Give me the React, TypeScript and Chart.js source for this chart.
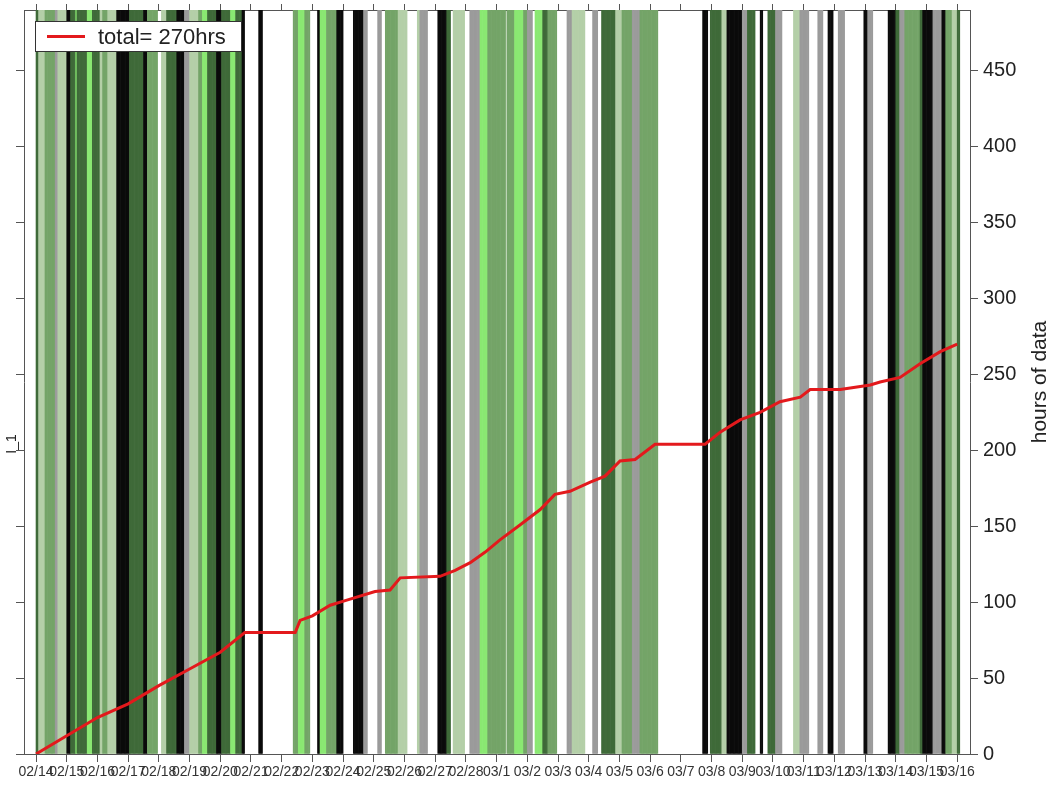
import React, { useEffect, useRef } from "react";
import { Chart, registerables } from "chart.js";

Chart.register(...registerables);

// Day tick labels (one per day, midnight)
const DAY_LABELS = [
  "02/14", "02/15", "02/16", "02/17", "02/18", "02/19", "02/20", "02/21",
  "02/22", "02/23", "02/24", "02/25", "02/26", "02/27", "02/28", "03/1",
  "03/2", "03/3", "03/4", "03/5", "03/6", "03/7", "03/8", "03/9",
  "03/10", "03/11", "03/12", "03/13", "03/14", "03/15", "03/16",
];

// Recorded hours, as runs: [first hour, end hour (exclusive), quality class]
const DATA_RUNS: [number, number, string][] = [
  [0, 2, "D"], [2, 7, "P"], [7, 15, "G"], [15, 17, "Y"], [17, 24, "P"],
  [24, 27, "K"], [27, 31, "D"], [31, 32, "L"], [32, 40, "D"], [40, 44, "L"],
  [44, 50, "D"], [50, 52, "P"], [52, 56, "G"], [56, 63, "P"], [63, 73, "K"],
  [73, 84, "D"], [84, 87, "K"], [87, 95, "G"], [98, 102, "P"], [102, 110, "D"],
  [110, 116, "K"], [116, 120, "Y"], [120, 127, "P"], [127, 130, "G"], [130, 134, "L"],
  [134, 141, "D"], [141, 145, "K"], [145, 152, "D"], [152, 156, "L"], [156, 161, "D"],
  [161, 163, "K"], [174, 177, "K"], [201, 205, "G"], [205, 210, "L"], [210, 214, "G"],
  [220, 222, "K"], [222, 227, "L"], [227, 235, "G"], [235, 240, "K"], [248, 256, "K"],
  [256, 259, "Y"], [267, 270, "Y"], [273, 283, "G"], [283, 290, "P"], [298, 300, "P"],
  [300, 306, "Y"], [314, 321, "K"], [321, 324, "D"], [326, 335, "P"], [339, 347, "Y"],
  [347, 353, "L"], [353, 367, "G"], [368, 374, "G"], [374, 381, "L"], [381, 384, "G"],
  [384, 388, "Y"], [390, 396, "L"], [396, 400, "D"], [400, 407, "G"], [415, 419, "Y"],
  [419, 429, "P"], [435, 439, "Y"], [442, 453, "D"], [453, 458, "P"], [458, 466, "G"],
  [466, 472, "Y"], [472, 478, "G"], [478, 486, "G"], [521, 525, "K"], [527, 536, "D"],
  [536, 540, "P"], [540, 552, "K"], [552, 556, "Y"], [556, 562, "D"], [566, 568, "K"],
  [572, 578, "D"], [578, 583, "Y"], [592, 597, "P"], [597, 604, "Y"], [611, 615, "Y"],
  [619, 623, "K"], [627, 632, "Y"], [647, 650, "K"], [650, 654, "Y"], [666, 672, "K"],
  [672, 675, "D"], [675, 679, "Y"], [679, 691, "G"], [691, 693, "D"], [693, 701, "K"],
  [701, 708, "Y"], [708, 711, "K"], [711, 716, "G"], [716, 720, "P"], [720, 722, "D"],
];

// Fill colour of each quality class
const CLASS_COLORS: Record<string, string> = {
  K: "#0b0b0b",
  D: "#3f6a39",
  G: "#74a468",
  L: "#8ae872",
  Y: "#9b9b9b",
  P: "#b4cfa8",
};

// Cumulative hours of data (day offset from 02/14, hours)
const CUM_DAYS = [
  0, 1, 2, 3, 4, 5, 6, 6.8, 8.44, 8.6, 9.0, 9.58, 10.07, 11.04, 11.53, 11.86,
  13.16, 13.65, 14.14, 14.63, 15.11, 15.77, 16.42, 16.9, 17.39, 18.05, 18.53,
  19.02, 19.51, 20.16, 21.79, 22.28, 22.93, 23.58, 24.23, 24.89, 25.21, 26.19,
  27.17, 27.49, 28.14, 28.79, 29.45, 30.0,
];
const CUM_HOURS = [
  0, 12, 24, 33, 45, 56, 67, 80, 80, 88, 91, 98, 101, 107, 108, 116,
  117, 121, 126, 133, 141, 151, 161, 171, 173, 179, 183,
  193, 194, 204, 204, 212, 220, 225, 232, 235, 240, 240,
  243, 245, 248, 257, 265, 270,
];

const Y_MAX = 490;
const Y_TICKS = [0, 50, 100, 150, 200, 250, 300, 350, 400, 450];
const X_MIN = -9.4;
const X_MAX = 730;
const FONT = "'Liberation Sans', Arial, sans-serif";
const TOTAL = CUM_HOURS[CUM_HOURS.length - 1];

const dayTicks = (scale: any) => {
  scale.ticks = DAY_LABELS.map((_, i) => ({ value: i * 24 }));
};
const hourTicks = (scale: any) => {
  scale.ticks = Y_TICKS.map((v) => ({ value: v }));
};
const fixSize = (w: number | null, h: number | null) => (s: any) => {
  if (w !== null) s.width = w;
  if (h !== null) s.height = h;
  s.paddingTop = 0;
  s.paddingBottom = 0;
  s.paddingLeft = 0;
  s.paddingRight = 0;
};

const drawRotated = (ctx: any, text: string, x: number, y: number, size: number) => {
  ctx.save();
  ctx.translate(x, y);
  ctx.rotate(-Math.PI / 2);
  ctx.fillStyle = "#222222";
  ctx.font = `${size}px ${FONT}`;
  ctx.textAlign = "center";
  ctx.textBaseline = "middle";
  ctx.fillText(text, 0, 0);
  ctx.restore();
};

// Legend box inside the plot, plus both axis titles (reading upward)
const overlayPlugin = {
  id: "overlay",
  afterDatasetsDraw(chart: any) {
    const { ctx, chartArea: a } = chart;
    ctx.save();
    const bx = a.left + 11;
    const by = a.top + 11;
    const bw = 207;
    const bh = 31;
    ctx.fillStyle = "#ffffff";
    ctx.fillRect(bx, by, bw, bh);
    ctx.strokeStyle = "#333333";
    ctx.lineWidth = 1;
    ctx.strokeRect(bx + 0.5, by + 0.5, bw - 1, bh - 1);
    const cy = by + bh / 2;
    ctx.strokeStyle = "#e3191c";
    ctx.lineWidth = 3;
    ctx.beginPath();
    ctx.moveTo(bx + 12, cy);
    ctx.lineTo(bx + 50, cy);
    ctx.stroke();
    ctx.fillStyle = "#222222";
    ctx.font = `22px ${FONT}`;
    ctx.textBaseline = "middle";
    ctx.textAlign = "left";
    ctx.fillText(`total= ${TOTAL}hrs`, bx + 63, cy + 1);
    ctx.restore();
  },
  afterDraw(chart: any) {
    const { ctx, chartArea: a } = chart;
    drawRotated(ctx, "hours of data", 1040, (a.top + a.bottom) / 2, 21);
    drawRotated(ctx, "I_1", 12, 444, 14);
  },
};

export default function App() {
  const canvasRef = useRef<HTMLCanvasElement | null>(null);

  useEffect(() => {
    const canvas = canvasRef.current;
    if (!canvas) return;

    const barPoints: { x: number; y: number }[] = [];
    const barColors: string[] = [];
    DATA_RUNS.forEach(([s, e, c]) => {
      for (let h = s; h < e; h++) {
        barPoints.push({ x: h + 0.5, y: Y_MAX });
        barColors.push(CLASS_COLORS[c]);
      }
    });
    const linePoints = CUM_DAYS.map((d, i) => ({ x: d * 24, y: CUM_HOURS[i] }));

    const axisColor = "#555555";

    const chart = new Chart(canvas, {
      type: "bar",
      data: {
        datasets: [
          {
            type: "line",
            label: "total",
            data: linePoints,
            xAxisID: "x",
            yAxisID: "y",
            borderColor: "#e3191c",
            borderWidth: 3,
            pointRadius: 0,
            tension: 0,
            fill: false,
            order: 0,
          } as any,
          {
            type: "bar",
            label: "data",
            data: barPoints,
            xAxisID: "x",
            yAxisID: "y",
            backgroundColor: barColors,
            borderWidth: 0,
            barPercentage: 1,
            categoryPercentage: 1,
            order: 1,
          } as any,
        ],
      },
      options: {
        responsive: false,
        animation: false,
        events: [],
        layout: { padding: 0 },
        plugins: {
          legend: { display: false },
          tooltip: { enabled: false },
        },
        scales: {
          x: {
            type: "linear",
            position: "bottom",
            offset: false,
            min: X_MIN,
            max: X_MAX,
            afterBuildTicks: dayTicks,
            afterFit: fixSize(null, 35),
            border: { display: true, color: axisColor, width: 1 },
            grid: { offset: false, drawOnChartArea: false, tickLength: 8, color: axisColor },
            ticks: {
              autoSkip: false,
              maxRotation: 0,
              minRotation: 0,
              padding: 2,
              color: "#333333",
              font: { family: FONT, size: 14 },
              callback: (_v: any, i: number) => DAY_LABELS[i],
            },
          },
          xTop: {
            type: "linear",
            position: "top",
            offset: false,
            min: X_MIN,
            max: X_MAX,
            afterBuildTicks: dayTicks,
            afterFit: fixSize(null, 10),
            border: { display: true, color: axisColor, width: 1 },
            grid: { offset: false, drawOnChartArea: false, tickLength: 6, color: axisColor },
            ticks: { display: false },
          },
          y: {
            type: "linear",
            position: "right",
            min: 0,
            max: Y_MAX,
            afterBuildTicks: hourTicks,
            afterFit: fixSize(82, null),
            border: { display: true, color: axisColor, width: 1 },
            grid: { drawOnChartArea: false, tickLength: 8, color: axisColor },
            ticks: {
              padding: 5,
              color: "#222222",
              font: { family: FONT, size: 20 },
            },
          },
          yLeft: {
            type: "linear",
            position: "left",
            min: 0,
            max: Y_MAX,
            afterBuildTicks: hourTicks,
            afterFit: fixSize(24, null),
            border: { display: true, color: axisColor, width: 1 },
            grid: { drawOnChartArea: false, tickLength: 8, color: axisColor },
            ticks: { display: false },
          },
        },
      },
      plugins: [overlayPlugin],
    });

    return () => chart.destroy();
  }, []);

  return (
    <div style={{ position: "absolute", left: 0, top: 0, width: 1052, height: 789, background: "#ffffff" }}>
      <canvas ref={canvasRef} width={1052} height={789} style={{ display: "block" }} />
    </div>
  );
}
